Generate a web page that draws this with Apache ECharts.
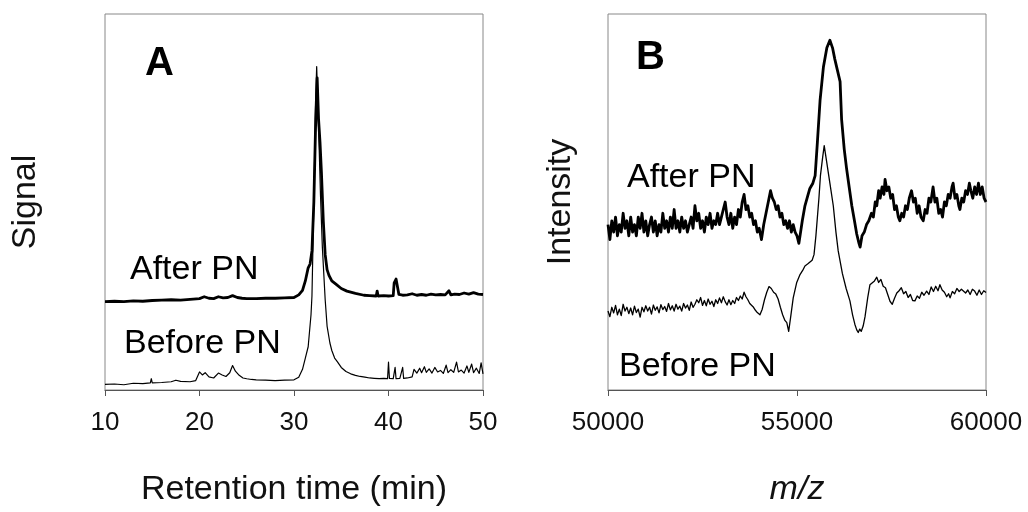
<!DOCTYPE html>
<html>
<head>
<meta charset="utf-8">
<script src="https://cdn.jsdelivr.net/npm/echarts@6/dist/echarts.min.js"></script>
<style>
  html, body { margin: 0; padding: 0; background: #fff; }
  #chart { width: 1028px; height: 512px; }
</style>
</head>
<body>
<div id="chart"></div>
<script>
// panel A: retention time (min) vs signal, arbitrary units 0-100
let afterA = [
  [10,23.5],[11,23.6],[12,23.5],[13,23.7],[14,23.6],[15,23.8],[16,23.9],[17,24.0],[18,23.9],[19,24.1],
  [20,24.3],[20.5,24.8],[21,24.4],[21.5,24.3],[22,24.8],[22.5,24.5],[23,24.6],[23.5,25.1],[24,24.6],[24.5,24.4],
  [25,24.3],[26,24.3],[27,24.4],[28,24.4],[29,24.5],[30,24.6],[30.5,25.3],[30.9,26.5],[31.2,29],[31.5,32.5],
  [31.7,33.5],[31.9,37],[32.1,50],[32.3,72],[32.45,83],[32.6,72],[32.75,66],[32.9,58],[33.1,45],[33.3,36],
  [33.5,32],[33.7,30.5],[34,29],[34.5,28],[35,27],[35.6,26.3],[36.5,25.7],[37.4,25.2],[38,25.1],[38.7,25.0],
  [38.8,26.3],[38.9,25.0],[39.5,25.1],[40,25.0],[40.5,25.1],[40.6,28.5],[40.8,29.5],[41.0,29.2],[41.1,25.4],[41.5,25.2],
  [42,25.3],[42.5,25.6],[43,25.2],[43.5,25.4],[44,25.2],[44.5,25.5],[45,25.3],[45.5,25.4],[46,25.3],[46.4,26.4],
  [46.6,25.3],[47,25.5],[47.5,25.4],[48,25.8],[48.5,25.5],[49,25.9],[49.5,25.5],[50,25.4]
]
let beforeA = [
  [10,1.5],[11,1.6],[12,1.4],[13,1.8],[14,1.7],[14.8,1.9],[14.9,3.0],[15,1.9],[16,2.0],[17,2.2],
  [17.5,2.6],[18,2.3],[19,2.2],[19.6,2.5],[20,4.8],[20.3,4.0],[20.6,4.6],[21,3.5],[21.5,3.2],[22,4.5],
  [22.4,4.0],[22.8,3.6],[23.2,4.6],[23.5,6.5],[23.8,5.0],[24.2,3.9],[24.6,3.2],[25,3.0],[25.5,2.8],[26,2.7],
  [27,2.6],[28,2.5],[29,2.6],[30,2.7],[30.5,3.4],[30.9,5.5],[31.2,8.5],[31.5,11.5],[31.8,20],[31.9,25],
  [32.1,50],[32.3,78],[32.4,86],[32.6,70],[32.8,52],[33.0,38],[33.3,24],[33.5,17],[33.8,12.5],[34.0,10.5],
  [34.3,8.5],[34.6,7.5],[35,6.0],[35.5,4.9],[36,4.3],[36.5,3.9],[37,3.6],[37.5,3.4],[38,3.2],[38.5,3.1],
  [39,3.0],[39.5,3.1],[39.9,3.0],[40,7.4],[40.1,3.1],[40.5,3.0],[40.7,6.0],[40.8,3.0],[41.2,3.1],[41.5,6.0],
  [41.6,3.1],[42,3.2],[42.5,3.5],[42.7,5.5],[43,4.5],[43.3,5.8],[43.5,4.6],[43.8,6.2],[44,4.7],[44.3,5.6],
  [44.6,4.5],[44.9,6.0],[45.2,4.8],[45.5,5.2],[45.8,4.4],[46.1,6.6],[46.3,4.6],[46.6,5.4],[46.9,4.7],[47.2,7.4],
  [47.4,4.8],[47.7,5.3],[48,4.5],[48.3,6.4],[48.5,4.7],[48.8,6.9],[49,4.6],[49.3,5.8],[49.6,4.4],[49.8,7.2],[50,4.3]
]

// panel B: m/z vs intensity, arbitrary units 0-100
let afterB = [
  [50000,44],[50050,40],[50100,45],[50150,42],[50200,46],[50250,41],[50300,44],[50350,42],[50400,47],[50450,43],
  [50500,45],[50550,41],[50600,46],[50650,42],[50700,44],[50750,41],[50800,46],[50850,43],[50900,47],[50950,42],
  [51000,45],[51050,41],[51100,44],[51150,46],[51200,42],[51250,45],[51300,41],[51350,44],[51400,42],[51450,47],
  [51500,43],[51550,45],[51600,42],[51650,46],[51700,43],[51750,48],[51800,43],[51850,45],[51900,42],[51950,46],
  [52000,43],[52050,45],[52100,42],[52150,44],[52200,46],[52250,43],[52300,49],[52350,45],[52400,47],[52450,43],
  [52500,45],[52550,42],[52600,46],[52650,44],[52700,47],[52750,43],[52800,45],[52850,44],[52900,47],[52950,44],
  [53000,46],[53050,48],[53100,50],[53150,46],[53200,44],[53250,47],[53300,43],[53350,46],[53400,44],[53450,48],
  [53500,46],[53550,50],[53600,52],[53650,48],[53700,49],[53750,46],[53800,47],[53850,44],[53900,45],[53950,42],
  [54000,43],[54060,40],[54120,44],[54180,47],[54240,50],[54300,53],[54350,51],[54400,50],[54450,48],[54500,49],
  [54550,46],[54600,47],[54650,44],[54700,45],[54750,43],[54800,45],[54850,42],[54900,44],[54950,42],[55000,41],
  [55050,39],[55080,38.5],[55140,45],[55210,49],[55280,51.5],[55340,53.6],[55420,55],[55480,57],[55540,66],[55610,77],
  [55700,86],[55790,91],[55870,93],[55940,91],[56000,88],[56070,85],[56140,82],[56180,72],[56250,64],[56310,59],
  [56380,54],[56450,49],[56520,45],[56580,41.5],[56640,39],[56670,38],[56720,41],[56780,42],[56840,44],[56900,45],
  [56970,47],[57020,46],[57070,50],[57110,49],[57160,53],[57200,51],[57250,54],[57300,52],[57330,56],[57380,53],
  [57430,54],[57480,51],[57530,52],[57580,48],[57630,49],[57680,46],[57720,45],[57770,47],[57820,46],[57870,49],
  [57920,48],[57970,51],[58030,53],[58080,50],[58130,51],[58180,47],[58230,49],[58280,46],[58340,45],[58390,48],
  [58440,47],[58490,51],[58540,50],[58600,54],[58650,50],[58700,51],[58750,47],[58800,48],[58850,46],[58900,50],
  [58950,49],[59000,52],[59050,51],[59100,54],[59130,55],[59180,51],[59230,52],[59280,49],[59310,48],[59360,51],
  [59410,50],[59460,53],[59510,52],[59560,55],[59600,53],[59650,51],[59700,54],[59750,52],[59800,55],[59850,52],
  [59900,54],[59950,51],[60000,50]
]
let beforeB = [
  [50000,21],[50050,19.5],[50100,22],[50150,20.5],[50200,22.5],[50250,20],[50300,21.5],[50350,19.8],[50400,22.8],[50450,21],
  [50500,22],[50550,20.3],[50600,21.8],[50650,20],[50700,22.3],[50750,20.6],[50800,21.5],[50850,19.4],[50900,22],[50950,20.8],
  [51000,22.4],[51050,21],[51100,22],[51150,20.2],[51200,22.6],[51250,21.2],[51300,22.1],[51350,20.5],[51400,22.7],[51450,21.4],
  [51500,22.2],[51550,20.9],[51600,23],[51650,21.3],[51700,22.4],[51750,21],[51800,22.8],[51850,21.5],[51900,22.3],[51950,21],
  [52000,23],[52050,21.8],[52100,22.6],[52150,21.2],[52200,23.4],[52250,22],[52300,22.8],[52350,24],[52400,23.2],[52450,24.6],
  [52500,22.5],[52550,23.8],[52600,22.4],[52650,24.2],[52700,22.8],[52750,23.6],[52800,22.2],[52850,24],[52900,23],[52950,24.5],
  [53000,23.2],[53050,24.8],[53100,23.5],[53150,22.6],[53200,24],[53250,22.7],[53300,23.8],[53350,23],[53400,24.6],[53450,23.8],
  [53500,25],[53550,24.2],[53600,26],[53650,24.8],[53700,24],[53750,23],[53800,22.6],[53850,22],[53900,21.2],[53950,20.6],
  [54020,20],[54080,21.5],[54140,24],[54200,26],[54260,27.5],[54320,27],[54380,26],[54440,25.5],[54500,24.2],[54560,22],
  [54620,20],[54680,18.5],[54730,17.9],[54780,15.6],[54840,20],[54900,24.5],[54990,28.5],[55080,30.7],[55150,31.8],[55210,33],
  [55280,33.5],[55330,33.2],[55400,34.5],[55450,36],[55500,41],[55540,46],[55580,51],[55620,57],[55680,62],[55720,65],
  [55780,61],[55870,55],[55960,49],[56030,42],[56090,37],[56200,31],[56300,27],[56400,23.7],[56470,20],[56530,17.5],
  [56580,16],[56620,15.3],[56660,16.2],[56700,15.6],[56750,17],[56800,19.5],[56870,24.5],[56930,28],[56980,27.5],[57050,29],
  [57110,30],[57160,28.6],[57220,29.4],[57280,27.6],[57340,27.2],[57400,25.4],[57460,23.6],[57520,22.8],[57580,24.4],[57640,25.8],
  [57700,26.4],[57760,27.2],[57820,25.6],[57880,26.2],[57940,24.6],[58000,25.4],[58060,23.8],[58120,23.7],[58180,25],[58240,24.4],
  [58300,26],[58360,25.2],[58430,26.3],[58490,25.4],[58550,27.4],[58610,26.2],[58670,27.6],[58730,26.4],[58780,28],[58840,26.6],
  [58900,26],[58960,24.8],[59010,25.6],[59050,24.5],[59110,26.2],[59170,25.6],[59230,27],[59290,26.2],[59350,26.8],[59400,27.2],
  [59460,25.8],[59520,26.6],[59580,25.4],[59640,26.8],[59700,26.3],[59760,25.2],[59820,26.6],[59880,25.4],[59940,26.4],[60000,25.9]
]

let ticksA = [10, 50, 10]        // min, max, interval
let ticksB = [50000, 60000, 5000]

let font = '"Liberation Sans", Arial, sans-serif'

function xAxisOpt(idx, t, name, italic) {
  return {
    gridIndex: idx, type: 'value', min: t[0], max: t[1], interval: t[2],
    name: name, nameLocation: 'middle', nameGap: 83,
    nameTextStyle: { fontSize: 34, color: '#111', fontFamily: font, fontStyle: italic ? 'italic' : 'normal' },
    axisLine: { show: true, lineStyle: { color: '#555', width: 1.2 } },
    axisTick: { show: true, length: 6, inside: false, lineStyle: { color: '#555' } },
    axisLabel: { fontSize: 26, color: '#111', fontFamily: font, margin: 20, formatter: v => String(v) },
    splitLine: { show: false }
  }
}
function yAxisOpt(idx, name, gap) {
  return {
    gridIndex: idx, type: 'value', min: 0, max: 100,
    name: name, nameLocation: 'middle', nameGap: gap, nameRotate: 90,
    nameTextStyle: { fontSize: 34, color: '#111', fontFamily: font },
    axisLine: { show: false }, axisTick: { show: false }, axisLabel: { show: false },
    splitLine: { show: false }
  }
}
function lineSeries(idx, data, w) {
  return {
    type: 'line', xAxisIndex: idx, yAxisIndex: idx, data: data,
    showSymbol: false, symbol: 'none', animation: false,
    lineStyle: { color: '#000', width: w, join: 'round' }
  }
}
function label(text, x, y, size, bold) {
  return {
    type: 'text', left: x, top: y,
    style: { text: text, fontSize: size, fontWeight: bold ? 'bold' : 'normal', fontFamily: font, fill: '#000' }
  }
}

let option = {
  backgroundColor: '#fff',
  animation: false,
  grid: [
    { left: 105, top: 14, width: 378, height: 379, show: true, borderColor: '#888', borderWidth: 1 },
    { left: 608, top: 14, width: 378, height: 379, show: true, borderColor: '#888', borderWidth: 1 }
  ],
  xAxis: [ xAxisOpt(0, ticksA, 'Retention time (min)', false), xAxisOpt(1, ticksB, 'm/z', true) ],
  yAxis: [ yAxisOpt(0, 'Signal', 62), yAxisOpt(1, 'Intensity', 30) ],
  series: [
    lineSeries(0, beforeA, 1.2), lineSeries(0, afterA, 2.8),
    lineSeries(1, beforeB, 1.3), lineSeries(1, afterB, 2.8)
  ],
  graphic: [
    label('A', 145, 44, 40, true),
    label('B', 636, 38, 40, true),
    label('After PN', 130, 253, 34),
    label('Before PN', 124, 327, 34),
    label('After PN', 627, 161, 34),
    label('Before PN', 619, 350, 34)
  ]
}

let myChart = echarts.init(document.getElementById('chart'), null, { renderer: 'canvas' })
myChart.setOption(option)
</script>
</body>
</html>
